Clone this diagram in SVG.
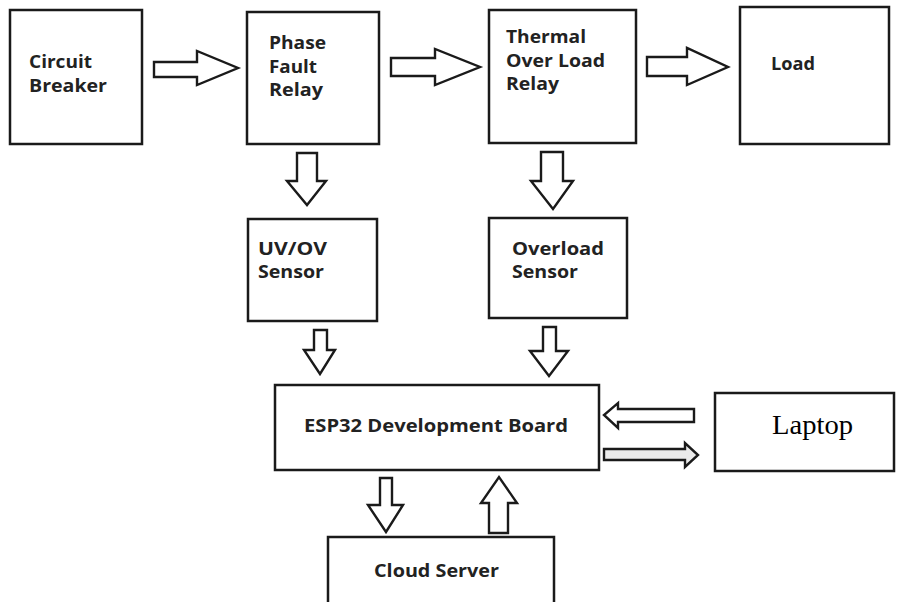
<svg xmlns="http://www.w3.org/2000/svg" width="899" height="602" viewBox="0 0 899 602">
<style>
.box{fill:#fff;stroke:#1a1a1a;stroke-width:2.5}
.arr{fill:#fff;stroke:#1a1a1a;stroke-width:2.4;stroke-linejoin:miter}
.arrg{fill:#ebebeb;stroke:#1a1a1a;stroke-width:2.4}
.t{font-family:"Open Sans","Liberation Sans",sans-serif;font-weight:700;font-size:17.5px;fill:#222}
.s{font-family:"Liberation Serif","Times New Roman",serif;font-size:28px;fill:#000}
</style>
<rect width="899" height="602" fill="#fff"/>
<g id="circuit-breaker">
<rect class="box" x="10" y="10" width="132" height="134"/>
<text class="t" x="29" y="68" textLength="63" lengthAdjust="spacingAndGlyphs">Circuit</text>
<text class="t" x="29" y="92" textLength="78" lengthAdjust="spacingAndGlyphs">Breaker</text>
</g>
<g id="phase-fault-relay">
<rect class="box" x="247" y="12" width="132" height="132"/>
<text class="t" x="269" y="49" textLength="57" lengthAdjust="spacingAndGlyphs">Phase</text>
<text class="t" x="269" y="73" textLength="48" lengthAdjust="spacingAndGlyphs">Fault</text>
<text class="t" x="269" y="96" textLength="54" lengthAdjust="spacingAndGlyphs">Relay</text>
</g>
<g id="thermal-overload-relay">
<rect class="box" x="489" y="10" width="147" height="133"/>
<text class="t" x="506" y="43" textLength="80" lengthAdjust="spacingAndGlyphs">Thermal</text>
<text class="t" x="506" y="67" textLength="99" lengthAdjust="spacingAndGlyphs">Over Load</text>
<text class="t" x="506" y="90" textLength="53" lengthAdjust="spacingAndGlyphs">Relay</text>
</g>
<g id="load">
<rect class="box" x="740" y="7" width="149" height="137"/>
<text class="t" x="771" y="70" textLength="44" lengthAdjust="spacingAndGlyphs">Load</text>
</g>
<g id="uv-ov-sensor">
<rect class="box" x="248" y="219" width="129" height="102"/>
<text class="t" x="258" y="255" textLength="69" lengthAdjust="spacingAndGlyphs">UV/OV</text>
<text class="t" x="258" y="278" textLength="66" lengthAdjust="spacingAndGlyphs">Sensor</text>
</g>
<g id="overload-sensor">
<rect class="box" x="489" y="218" width="138" height="100"/>
<text class="t" x="512" y="255" textLength="92" lengthAdjust="spacingAndGlyphs">Overload</text>
<text class="t" x="512" y="278" textLength="66" lengthAdjust="spacingAndGlyphs">Sensor</text>
</g>
<g id="esp32">
<rect class="box" x="275" y="385" width="324" height="85"/>
<text class="t" x="304" y="432" textLength="264" lengthAdjust="spacingAndGlyphs">ESP32 Development Board</text>
</g>
<g id="laptop">
<rect class="box" x="715" y="393" width="179" height="78"/>
<text class="s" x="772" y="434" textLength="81" lengthAdjust="spacingAndGlyphs">Laptop</text>
</g>
<g id="cloud-server">
<rect class="box" x="328" y="537" width="226" height="80"/>
<text class="t" x="374" y="577" textLength="125" lengthAdjust="spacingAndGlyphs">Cloud Server</text>
</g>
<g id="connectors">
<polygon class="arr" points="154,62 197,62 197,51 238,68 197,85 197,77 154,77"/>
<polygon class="arr" points="391,58 435,58 435,49 480,67 435,85 435,76 391,76"/>
<polygon class="arr" points="647,57 687,57 687,48 728,67 687,85 687,76 647,76"/>
<polygon class="arr" points="297,153 317,153 317,181 326,181 307,205 287,181 297,181"/>
<polygon class="arr" points="541,152 563,152 563,181 573,181 553,209 531,181 541,181"/>
<polygon class="arr" points="314,330 327,330 327,350 335,350 320,374 304,350 314,350"/>
<polygon class="arr" points="543,327 556,327 556,351 568,351 549,376 530,351 543,351"/>
<polygon class="arr" points="694,409 618,409 618,403 604,415 618,428 618,422 694,422"/>
<polygon class="arrg" points="604,449 685,449 685,443 698,455 685,467 685,460 604,460"/>
<polygon class="arr" points="380,478 392,478 392,505 403,505 386,532 368,505 380,505"/>
<polygon class="arr" points="489,533 508,533 508,503 517,503 499,477 481,503 489,503"/>
</g>
</svg>
